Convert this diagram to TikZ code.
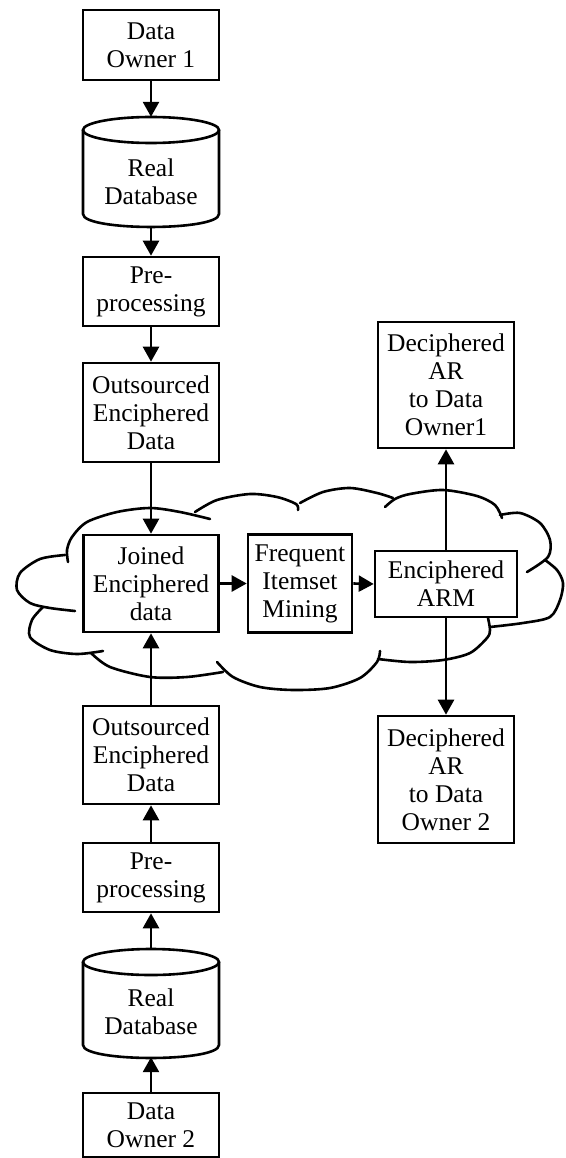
\documentclass[tikz,border=0pt]{standalone}
\usepackage{fontspec}
\setmainfont{Liberation Serif}
\usetikzlibrary{arrows.meta}
\begin{document}
\begin{tikzpicture}[x=1pt,y=-1pt,
  ln/.style={line width=2.6pt},
  box/.style={draw,ln,fill=white,inner sep=0pt,align=center,
    font=\fontsize{25.5}{28}\selectfont},
  txt/.style={inner sep=0pt,align=center,font=\fontsize{25.5}{28}\selectfont},
  arr/.style={ln,-{Triangle[length=15pt,width=16pt]}},
  lobe/.style={ln,line cap=round}]
\useasboundingbox (0,0) rectangle (565,1158);
% cloud
\draw[lobe] plot[smooth] coordinates {(68,562) (67,550) (72,537) (87,522) (117,512) (150,508) (180,512) (210,519)};
\draw[lobe] plot[smooth] coordinates {(195,512) (217,500) (250,494) (277,497) (296,504) (298,510)};
\draw[lobe] plot[smooth] coordinates {(300,503) (323,492) (350,488) (377,493) (393,498)};
\draw[lobe] plot[smooth] coordinates {(385,507) (395,499) (410,494) (443,490) (477,496) (495,505) (502,518)};
\draw[lobe] plot[smooth] coordinates {(500,515) (520,513) (540,523) (550,540) (548,557) (527,572)};
\draw[lobe] plot[smooth] coordinates {(545,560) (557,570) (563,583) (560,600) (550,617) (523,623) (490,627)};
\draw[lobe] plot[smooth] coordinates {(488,618) (490,630) (487,638) (470,653) (443,660) (410,662) (378,659)};
\draw[lobe] plot[smooth] coordinates {(380,651) (377,662) (360,678) (330,688) (293,690) (260,687) (233,677) (217,662)};
\draw[lobe] plot[smooth] coordinates {(223,672) (187,677) (150,677) (110,667) (91,653)};
\draw[lobe] plot[smooth] coordinates {(43,607) (32,620) (30,637) (50,650) (77,654) (103,651)};
\draw[lobe] plot[smooth] coordinates {(65,555) (40,559) (20,573) (17,590) (30,603) (50,608) (75,611)};
% left column, top
\node[box,minimum width=136pt,minimum height=70pt] (do1) at (151,45) {Data\\Owner 1};
\node[inner sep=0pt,minimum width=136pt,minimum height=110pt] (db1) at (151,172) {};
\draw[ln] (151,130) ellipse [x radius=68pt, y radius=13pt];
\draw[ln] (83,130) -- (83,214) .. controls (83,231.3) and (219,231.3) .. (219,214) -- (219,130);
\node[txt] (db1t) at (151,182) {Real\\Database};
\node[box,minimum width=136pt,minimum height=69pt] (pre1) at (151,291.5) {Pre-\\processing};
\node[box,minimum width=136pt,minimum height=99pt] (out1) at (151,412.5) {Outsourced\\Enciphered\\Data};
% cloud row
\node[box,minimum width=135pt,minimum height=97pt] (join) at (151,583.5) {Joined\\Enciphered\\data};
\node[box,minimum width=104pt,minimum height=98pt] (freq) at (300,583.5) {Frequent\\Itemset\\Mining};
\node[box,minimum width=142pt,minimum height=66pt] (arm) at (446,584) {Enciphered\\ARM};
% right column
\node[box,minimum width=136pt,minimum height=126pt] (dec1) at (446,385) {Deciphered\\AR\\to Data\\Owner1};
\node[box,minimum width=136pt,minimum height=127pt] (dec2) at (446,779.5) {Deciphered\\AR\\to Data\\Owner 2};
% left column, bottom
\node[box,minimum width=136pt,minimum height=98pt] (out2) at (151,755) {Outsourced\\Enciphered\\Data};
\node[box,minimum width=136pt,minimum height=69pt] (pre2) at (151,877.5) {Pre-\\processing};
\node[inner sep=0pt,minimum width=136pt,minimum height=108pt] (db2) at (151,1003) {};
\draw[ln] (151,962) ellipse [x radius=68pt, y radius=13pt];
\draw[ln] (83,962) -- (83,1045) .. controls (83,1062.3) and (219,1062.3) .. (219,1045) -- (219,962);
\node[txt] (db2t) at (151,1012) {Real\\Database};
\node[box,minimum width=136pt,minimum height=64pt] (do2) at (151,1125) {Data\\Owner 2};
% connectors
\draw[arr] (do1.south) -- (db1.north);
\draw[arr] (db1.south) -- (pre1.north);
\draw[arr] (pre1.south) -- (out1.north);
\draw[arr] (out1.south) -- (join.north);
\draw[arr] (out2.north) -- (join.south);
\draw[arr] (pre2.north) -- (out2.south);
\draw[arr] (db2.north) -- (pre2.south);
\draw[arr] (do2.north) -- (db2.south);
\draw[arr] (join.east) -- (freq.west);
\draw[arr] (freq.east) -- (arm.west);
\draw[arr] (arm.north) -- (dec1.south);
\draw[arr] (arm.south) -- (dec2.north);
\end{tikzpicture}
\end{document}
